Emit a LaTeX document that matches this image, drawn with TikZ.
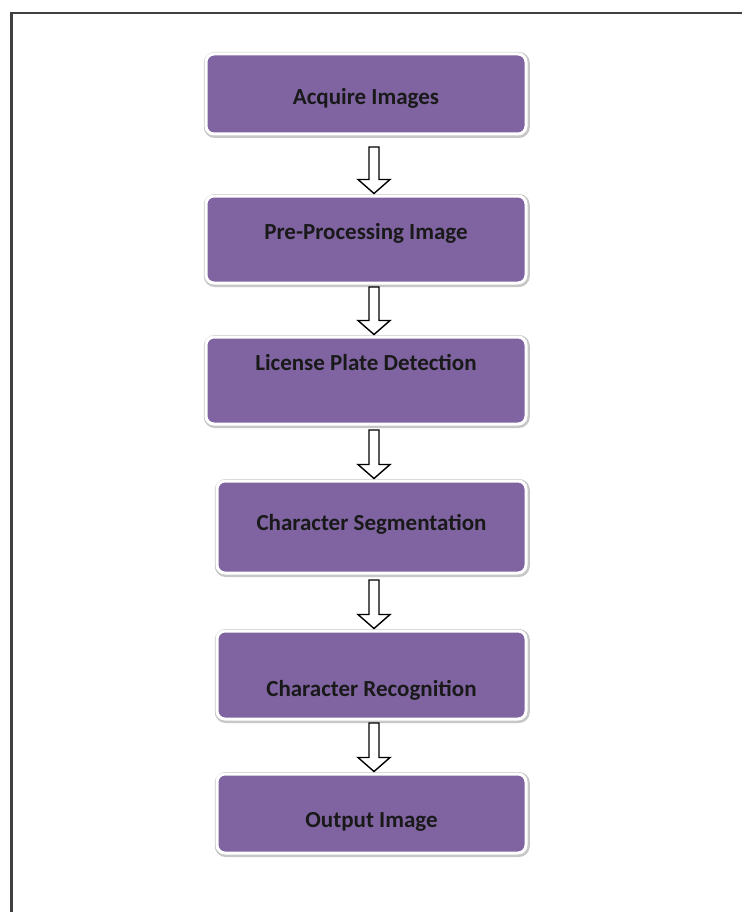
\documentclass[tikz,border=0pt]{standalone}
\usepackage{fontspec}
\setmainfont{Carlito}
\usepackage{tikz}
\usetikzlibrary{calc}
\usetikzlibrary{positioning}
\definecolor{stepPurple}{HTML}{8064A2}
\definecolor{frameGrey}{HTML}{404040}
\tikzstyle{step_box} = [
    rectangle, 
    rounded corners=8pt, 
    fill=stepPurple, 
    draw=white, 
    line width=3pt, 
    preaction={draw=black!22, line width=6pt, transform canvas={xshift=0.8pt, yshift=-1pt}}, % soft grey rim
    inner sep=0pt
]
\tikzstyle{step_text} = [
    font=\bfseries\fontsize{23}{27}\selectfont, 
    text=black!90, 
    inner sep=0pt, 
    text height=14pt, % same height and depth for every label
    text depth=4pt
]
\tikzstyle{hollow_arrow} = [
    draw=black, 
    fill=white, 
    line width=1.4pt, 
    to path={let \p1=(\tikztostart), \p2=(\tikztotarget) in
        (\x1-5pt,\y1) -- (\x1+5pt,\y1) -- (\x1+5pt,\y2+15pt) 
        -- (\x1+16pt,\y2+15pt) -- (\x1,\y2+1pt) -- (\x1-16pt,\y2+15pt) 
        -- (\x1-5pt,\y2+15pt) -- cycle}
]

\begin{document}
\begin{tikzpicture}[x=1pt, y=-1pt]
\useasboundingbox (0,0) rectangle (742,912);
% frame, cut off at the right and bottom
\draw[frameGrey, line width=2.5pt] (11.5,912) -- (11.5,13) -- (742,13);

% boxes
\node [step_box, minimum width=320, minimum height=80] (acquire) at (366,94) {};
\node [step_box, minimum width=320, minimum height=87] (preproc) at (366,239.5) {};
\node [step_box, minimum width=320, minimum height=87] (detect) at (366,380.5) {};
\node [step_box, minimum width=309, minimum height=92] (segment) at (371.5,527) {};
\node [step_box, minimum width=309, minimum height=88] (recog) at (371.5,675) {};
\node [step_box, minimum width=309, minimum height=79] (output) at (371.5,813.5) {};

% labels
\node [step_text] (acquire_t) at (366,100) {Acquire Images};
\node [step_text] (preproc_t) at (366,234) {Pre-Processing Image};
\node [step_text] (detect_t) at (366,365) {License Plate Detection};
\node [step_text] (segment_t) at (371.5,525) {Character Segmentation};
\node [step_text] (recog_t) at (371.5,691) {Character Recognition};
\node [step_text] (output_t) at (371.5,822) {Output Image};

% arrows
\coordinate (a1) at (374,147);
\coordinate (a2) at (374,287);
\coordinate (a3) at (374,430);
\coordinate (a4) at (374,580);
\coordinate (a5) at (374,723);
\draw [hollow_arrow] (a1) to (preproc.north);
\draw [hollow_arrow] (a2) to (detect.north);
\draw [hollow_arrow] (a3) to (segment.north);
\draw [hollow_arrow] (a4) to (recog.north);
\draw [hollow_arrow] (a5) to (output.north);
\end{tikzpicture}
\end{document}
